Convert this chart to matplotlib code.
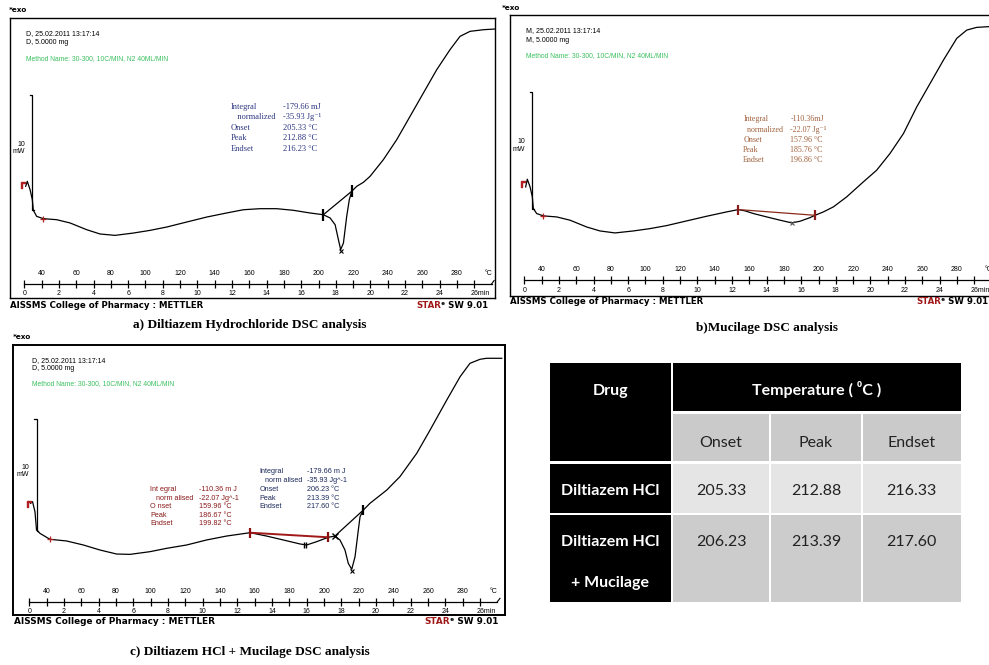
import matplotlib
matplotlib.use('Agg')
import matplotlib.pyplot as plt
from matplotlib.patches import Rectangle
import numpy as np

# ---------------- DATA ----------------
# Panel a: Diltiazem HCl
temp_a = [30.75, 31.7, 33.3, 34.6, 35.2, 37.1, 41.0, 48.7, 56.4, 66.0, 73.7, 82.4, 93.0, 102.6,
          112.3, 123.8, 135.4, 146.9, 156.6, 166.2, 175.8, 185.5, 195.1, 202.8, 206.7, 209.6,
          211.5, 212.8, 214.4, 216.3, 217.8, 219.2, 222.1, 225.9, 229.8, 237.5, 245.2, 252.9,
          260.6, 268.3, 276.0, 281.8, 287.6, 295.3, 302.0]
flow_a = [9.63, 10.06, 9.34, 8.48, 7.56, 7.04, 6.84, 6.75, 6.47, 5.89, 5.52, 5.40, 5.60, 5.83,
          6.12, 6.55, 6.98, 7.33, 7.61, 7.70, 7.70, 7.56, 7.33, 7.18, 6.90, 6.32,
          5.03, 4.17, 4.74, 7.04, 8.48, 9.20, 9.63, 9.97, 10.49, 11.93, 13.65, 15.66,
          17.67, 19.68, 21.41, 22.56, 22.99, 23.13, 23.19]
base_a_temp = [202.8, 219.2]
base_a_flow = [7.18, 9.20]
peak_a = [212.8, 4.05]
ann_a_labels = ["Integral", "   normalized", "Onset", "Peak", "Endset"]
ann_a_values = ["-179.66 mJ", "-35.93 Jg\u207b\u00b9", "205.33 \u00b0C", "212.88 \u00b0C", "216.23 \u00b0C"]

# Panel b: Mucilage
temp_b = [30.75, 31.7, 33.3, 34.6, 35.2, 37.1, 41.0, 48.7, 56.4, 66.0, 73.7, 82.4, 93.0, 102.6,
          112.3, 123.8, 135.4, 146.9, 153.7, 157.5, 162.4, 170.1, 177.8, 184.5, 189.3, 195.1,
          198.0, 202.8, 208.6, 216.3, 225.9, 233.6, 241.3, 249.1, 256.8, 264.5, 272.2, 279.9,
          285.7, 291.4, 298.2, 302.0]
flow_b = [9.34, 10.0, 9.34, 8.49, 7.49, 7.06, 6.86, 6.77, 6.49, 5.91, 5.57, 5.40, 5.57, 5.77,
          6.03, 6.43, 6.83, 7.20, 7.40, 7.29, 7.06, 6.77, 6.49, 6.26, 6.40, 6.71,
          6.91, 7.20, 7.63, 8.49, 9.77, 10.77, 12.2, 13.91, 16.2, 18.2, 20.2, 22.06,
          22.77, 23.0, 23.06, 23.06]
base_b_temp = [153.7, 198.0]
base_b_flow = [7.40, 6.91]
peak_b = [184.5, 6.22]
ann_b_labels = ["Integral", "  normalized", "Onset", "Peak", "Endset"]
ann_b_values = ["-110.36mJ", "-22.07 Jg\u207b\u00b9", "157.96 \u00b0C", "185.76 \u00b0C", "196.86 \u00b0C"]

# Panel c: Diltiazem HCl + Mucilage
temp_c = [30.8, 31.9, 33.3, 34.2, 36.2, 41.9, 51.5, 61.2, 70.8, 80.4, 88.1, 99.6, 109.2, 120.8,
          132.3, 143.8, 157.3, 161.2, 166.9, 176.5, 186.2, 190.0, 195.8, 202.5, 206.3, 209.2,
          212.1, 214.0, 216.0, 217.9, 219.8, 220.8, 222.7, 226.5, 236.2, 243.8, 253.5, 261.2,
          270.8, 278.5, 284.2, 290.0, 293.8, 302.5]
flow_c = [10.0, 10.15, 9.25, 7.61, 7.31, 6.78, 6.63, 6.27, 5.82, 5.46, 5.43, 5.67, 5.97, 6.27,
          6.72, 7.07, 7.37, 7.25, 7.07, 6.72, 6.36, 6.27, 6.57, 6.96, 7.07, 6.72,
          5.82, 4.63, 4.09, 5.22, 7.61, 8.81, 9.40, 10.0, 11.19, 12.39, 14.48, 16.57,
          19.25, 21.34, 22.54, 22.9, 22.99, 22.99]
base_c1_temp = [157.3, 202.5]
base_c1_flow = [7.37, 6.96]
base_c2_temp = [206.3, 222.7]
base_c2_flow = [7.07, 9.40]
ann_c1_labels = ["Int egral", "   norm alised", "O nset", "Peak", "Endset"]
ann_c1_values = ["-110.36 m J", "-22.07 Jg^-1", "159.96 \u00b0C", "186.67 \u00b0C", "199.82 \u00b0C"]
ann_c2_labels = ["Integral", "   norm alised", "Onset", "Peak", "Endset"]
ann_c2_values = ["-179.66 m J", "-35.93 Jg^-1", "206.23 \u00b0C", "213.39 \u00b0C", "217.60 \u00b0C"]

# Ruler labels
temp_tick_labels = list(range(40, 281, 20))
time_tick_labels = list(range(0, 25, 2))

# Table
table_drugs = [["Diltiazem HCl"], ["Diltiazem HCl", "+ Mucilage"]]
table_cols = ["Onset", "Peak", "Endset"]
table_values = [["205.33", "212.88", "216.33"], ["206.23", "213.39", "217.60"]]

# ---------------- FIGURE ----------------
W, H = 989, 665
fig = plt.figure(figsize=(W / 100, H / 100), dpi=100)
fig.patch.set_facecolor('white')

SANS = ['Liberation Sans', 'DejaVu Sans']
SERIF = ['Liberation Serif', 'DejaVu Serif']
GREEN = '#3cc060'


def rect_px(left, top, right, bottom):
    return [left / W, 1 - bottom / H, (right - left) / W, (bottom - top) / H]


def dsc_panel(rect, xlim, ylim, temp, flow, ruler_y, bar_x, bar_lo, bar_hi,
              info, info_x, info_y, method_y, start_mark, int_start, lw_frame=1.0):
    ax = fig.add_axes(rect)
    ax.set_xlim(xlim)
    ax.set_ylim(ylim)
    ax.set_xticks([])
    ax.set_yticks([])
    for s in ax.spines.values():
        s.set_linewidth(lw_frame)
    ax.plot(temp, flow, color='black', lw=0.9, solid_joinstyle='round')
    # 10 mW scale bar
    ax.plot([bar_x - 1.3, bar_x, bar_x, bar_x + 1.0], [bar_hi, bar_hi, bar_lo, bar_lo],
            color='black', lw=0.9)
    mid = (bar_lo + bar_hi) / 2
    ax.text(bar_x - 4.2, mid + 0.4, "10", fontsize=5, family=SANS, ha='right', va='bottom')
    ax.text(bar_x - 4.2, mid + 0.35, "mW", fontsize=5, family=SANS, ha='right', va='top')
    # start markers
    ax.plot([start_mark[0]], [start_mark[1]], marker='$\\Gamma$', color='#b02020',
            markersize=4, linestyle='none')
    ax.plot([int_start[0]], [int_start[1]], marker='+', color='#b02020',
            markersize=4, mew=0.9, linestyle='none')
    # ruler
    ax.plot([30, 300], [ruler_y, ruler_y], color='black', lw=0.9)
    ticks = np.arange(30, 300, 10)
    ax.vlines(ticks, ruler_y - 0.35, ruler_y + 0.35, color='black', lw=0.9)
    ax.plot([300, 301.5], [ruler_y, ruler_y + 0.3], color='black', lw=0.8)
    for T in temp_tick_labels:
        ax.text(T, ruler_y + 0.6, str(T), fontsize=5, family=SANS, ha='center', va='bottom')
    ax.text(298, ruler_y + 0.6, "\u00b0C", fontsize=5, family=SANS, ha='center', va='bottom')
    for t in time_tick_labels:
        ax.text(30 + 10 * t, ruler_y - 0.55, str(t), fontsize=5, family=SANS,
                ha='center', va='top')
    ax.text(288, ruler_y - 0.55, "26min", fontsize=5, family=SANS, ha='left', va='top')
    # info text
    for line, yy in zip(info, info_y):
        ax.text(info_x, yy, line, fontsize=5, family=SANS, transform=ax.transAxes,
                ha='left', va='center')
    ax.text(info_x, method_y, "Method Name: 30-300, 10C/MIN, N2 40ML/MIN", fontsize=4.9,
            family=SANS, color=GREEN, transform=ax.transAxes, ha='left', va='center')
    return ax


def ann_block(ax, labels, values, x_lab, x_val, ys, color, family, fs=5.5, weight='normal'):
    for lab, val, yy in zip(labels, values, ys):
        ax.text(x_lab, yy, lab, fontsize=fs, family=family, color=color, weight=weight,
                transform=ax.transAxes, ha='left', va='center')
        ax.text(x_val, yy, val, fontsize=fs, family=family, color=color, weight=weight,
                transform=ax.transAxes, ha='left', va='center')


# ---- Panel a ----
ax_a = dsc_panel(rect_px(10, 18, 495, 298), (21.7, 302.0), (0, 24.14), temp_a, flow_a,
                 1.21, 34.6, 7.56, 17.53,
                 ["D, 25.02.2011 13:17:14", "D, 5.0000 mg"], 0.034, [0.946, 0.911], 0.854,
                 (29.4, 9.75), (41.0, 6.84))
ax_a.plot(base_a_temp, base_a_flow, color='black', lw=0.9)
ax_a.plot(base_a_temp, base_a_flow, marker='|', color='black', markersize=8, mew=1.6,
          linestyle='none')
ax_a.plot([peak_a[0]], [peak_a[1]], marker='x', color='black', markersize=3.5, mew=0.8)
ann_block(ax_a, ann_a_labels, ann_a_values, 0.455, 0.562,
          [0.682, 0.646, 0.608, 0.571, 0.533], '#2b3580', SERIF, fs=6)

# ---- Panel b ----
ax_b = dsc_panel(rect_px(510, 15, 995, 296), (21.7, 302.0), (0, 24.06), temp_b, flow_b,
                 1.34, 34.6, 7.49, 17.49,
                 ["M, 25.02.2011 13:17:14", "M, 5.0000 mg"], 0.034, [0.944, 0.909], 0.854,
                 (29.4, 9.6), (41.0, 6.86))
ax_b.plot(base_b_temp, base_b_flow, color='#8b2a1a', lw=0.9)
ax_b.plot(base_b_temp, base_b_flow, marker='|', color='#8b1a1a', markersize=7, mew=1.6,
          linestyle='none')
ax_b.plot([peak_b[0]], [peak_b[1]], marker='x', color='#555555', markersize=3.5, mew=0.8)
ann_block(ax_b, ann_b_labels, ann_b_values, 0.481, 0.578,
          [0.629, 0.592, 0.555, 0.519, 0.484], '#a0603c', SERIF, fs=5.8)

# ---- Panel c ----
ax_c = dsc_panel(rect_px(13.3, 345, 505, 615), (20.8, 304.4), (0, 24.18), temp_c, flow_c,
                 1.19, 34.2, 7.52, 17.52,
                 ["D, 25.02.2011 13:17:14", "D, 5.0000 mg"], 0.039, [0.942, 0.912], 0.856,
                 (29.6, 9.9), (41.9, 6.78), lw_frame=1.4)
ax_c.plot(base_c1_temp, base_c1_flow, color='#a01818', lw=1.4)
ax_c.plot(base_c1_temp, base_c1_flow, marker='|', color='#8b1010', markersize=7, mew=1.6,
          linestyle='none')
ax_c.plot(base_c2_temp, base_c2_flow, color='black', lw=0.9)
ax_c.plot([base_c2_temp[0]], [base_c2_flow[0]], marker='x', color='black', markersize=4, mew=1.0)
ax_c.plot([base_c2_temp[1]], [base_c2_flow[1]], marker='|', color='black', markersize=7, mew=1.6)
ax_c.plot([189.0], [6.27], marker='$||$', color='black', markersize=4)
ax_c.plot([216.0], [3.95], marker='x', color='black', markersize=3, mew=0.8)
ann_block(ax_c, ann_c1_labels, ann_c1_values, 0.278, 0.378,
          [0.465, 0.432, 0.401, 0.370, 0.340], '#8b1a1a', SANS, fs=5.2)
ann_block(ax_c, ann_c2_labels, ann_c2_values, 0.500, 0.598,
          [0.531, 0.498, 0.465, 0.432, 0.401], '#1c2a5a', SANS, fs=5.2)

# ---------------- OVERLAY (pixel coordinates) ----------------
ov = fig.add_axes([0, 0, 1, 1], facecolor='none')
ov.set_xlim(0, W)
ov.set_ylim(H, 0)
ov.axis('off')

FOOT = ['DejaVu Sans']


def footer(x_left, x_star, y, fs=6.2):
    ov.text(x_left, y, "AISSMS College of Pharmacy : METTLER", fontsize=fs, family=FOOT,
            weight='bold', ha='left', va='center')
    t = ov.text(x_star, y, "STAR", fontsize=fs, family=FOOT, weight='bold', color='#a01818',
                ha='left', va='center')
    ov.annotate("\u1d49 SW 9.01", xy=(1, 0), xycoords=t, xytext=(0, 0),
                textcoords='offset points', fontsize=fs, family=FOOT, weight='bold',
                ha='left', va='bottom')


for (x, y) in [(9, 10), (502, 8), (13, 337)]:
    ov.text(x, y, "*exo", fontsize=5.2, family=FOOT, weight='bold', ha='left', va='center')

footer(10, 416, 305)
footer(510, 916, 302)
footer(14, 424, 621, fs=6.4)

CAP = dict(fontsize=9.5, family=SERIF, weight='bold', ha='center', va='center')
ov.text(250, 325, "a) Diltiazem Hydrochloride DSC analysis", **CAP)
ov.text(767, 328, "b)Mucilage DSC analysis", **CAP)
ov.text(250, 652, "c) Diltiazem HCl + Mucilage DSC analysis", **CAP)

# ---- Table ----
TF = ['Lato', 'DejaVu Sans']
TFS = 11.5
BL = 5.8  # baseline offset from visual centre of capitals
col_x = [(550, 670.7), (672.7, 769.3), (771, 861), (862.7, 960.7)]
hdr_top, hdr_bot = 363.3, 411
sub_top, sub_bot = 414, 461
row_y = [(464, 513.3), (514.7, 601.7)]
row_colors = ['#e5e5e5', '#cccccc']
sub_color = '#cacaca'


def cell(x0, x1, y0, y1, color):
    ov.add_patch(Rectangle((x0, y0), x1 - x0, y1 - y0, facecolor=color, edgecolor='none'))


def ttext(x, yc, s, **kw):
    ov.text(x, yc + BL, s, fontsize=TFS, family=TF, ha='center', va='baseline', **kw)


cell(col_x[0][0], col_x[0][1], hdr_top, sub_bot, 'black')
cell(col_x[1][0], col_x[3][1], hdr_top, hdr_bot, 'black')
ttext(sum(col_x[0]) / 2, 389, "Drug", weight='bold', color='white')
ttext((col_x[1][0] + col_x[3][1]) / 2, 389, "Temperature ( \u2070C )", weight='bold',
      color='white')
for (x0, x1), name in zip(col_x[1:], table_cols):
    cell(x0, x1, sub_top, sub_bot, sub_color)
    ttext((x0 + x1) / 2, 441, name, color='#222222')

for r, ((y0, y1), drug, vals) in enumerate(zip(row_y, table_drugs, table_values)):
    cell(col_x[0][0], col_x[0][1], y0, y1, 'black')
    for i, line in enumerate(drug):
        ttext(sum(col_x[0]) / 2, y0 + 25 + i * 42, line, weight='bold', color='white')
    for (x0, x1), v in zip(col_x[1:], vals):
        cell(x0, x1, y0, y1, row_colors[r])
        ttext((x0 + x1) / 2, y0 + 25, v, color='#222222')

fig.savefig('out.png', dpi=100, facecolor='white')
